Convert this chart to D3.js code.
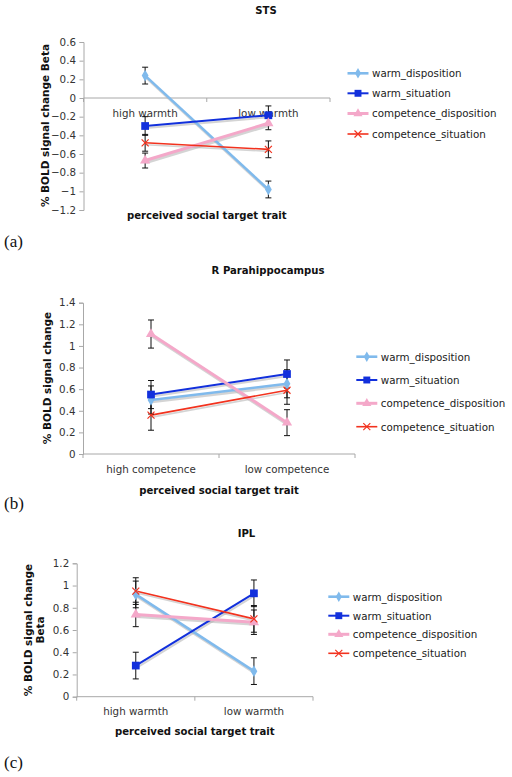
<!DOCTYPE html>
<html>
<head>
<meta charset="utf-8">
<script src="https://cdn.jsdelivr.net/npm/d3@7/dist/d3.min.js"></script>
<style>
  html, body { margin: 0; padding: 0; background: #fff; }
  svg { display: block; }
</style>
</head>
<body>
<svg id="chart" width="512" height="777"></svg>
<script>
// ---------------- DATA ----------------
const seriesNames = ["warm_disposition", "warm_situation", "competence_disposition", "competence_situation"];

// (a) STS
const stsCategories = ["high warmth", "low warmth"];
const stsTicks = [0.6, 0.4, 0.2, 0, -0.2, -0.4, -0.6, -0.8, -1, -1.2];
const stsWarmDisposition = [0.24, -0.98];
const stsWarmSituation = [-0.30, -0.185];
const stsCompetenceDisposition = [-0.67, -0.27];
const stsCompetenceSituation = [-0.48, -0.55];
const stsErrWarmDisposition = [0.09, 0.09];
const stsErrWarmSituation = [0.10, 0.10];
const stsErrCompetenceDisposition = [0.08, 0.07];
const stsErrCompetenceSituation = [0.09, 0.09];

// (b) R Parahippocampus
const phCategories = ["high competence", "low competence"];
const phTicks = [0, 0.2, 0.4, 0.6, 0.8, 1, 1.2, 1.4];
const phWarmDisposition = [0.50, 0.65];
const phWarmSituation = [0.55, 0.74];
const phCompetenceDisposition = [1.11, 0.29];
const phCompetenceSituation = [0.36, 0.59];
const phErrWarmDisposition = [0.13, 0.13];
const phErrWarmSituation = [0.13, 0.13];
const phErrCompetenceDisposition = [0.13, 0.12];
const phErrCompetenceSituation = [0.14, 0.13];

// (c) IPL
const iplCategories = ["high warmth", "low warmth"];
const iplTicks = [0, 0.2, 0.4, 0.6, 0.8, 1, 1.2];
const iplWarmDisposition = [0.92, 0.23];
const iplWarmSituation = [0.28, 0.93];
const iplCompetenceDisposition = [0.74, 0.67];
const iplCompetenceSituation = [0.95, 0.70];
const iplErrWarmDisposition = [0.12, 0.12];
const iplErrWarmSituation = [0.12, 0.12];
const iplErrCompetenceDisposition = [0.11, 0.11];
const iplErrCompetenceSituation = [0.12, 0.12];

// ---------------- STYLE ----------------
const seriesColors = ["#80BAEC", "#1230DC", "#F4A8C9", "#F2321E"];
const seriesWidths = [2.6, 2, 3, 1.6];
const seriesMarkers = ["diamond", "square", "triangle", "x"];
const axisColor = "#a8a8a8";
const sans = "'DejaVu Sans', Verdana, sans-serif";
const fs = 10.3;      // regular text
const fsBold = 10.1;  // bold titles
const fsYTitle = 10.5;

const svg = d3.select("#chart");

function marker(g, type, x, y, color, s) {
  s = s || 1;
  if (type === "diamond") {
    g.append("path").attr("d", d3.symbol(d3.symbolDiamond, 40 * s)()).attr("transform", `translate(${x},${y})`).attr("fill", color);
  } else if (type === "square") {
    g.append("path").attr("d", d3.symbol(d3.symbolSquare, 60 * s)()).attr("transform", `translate(${x},${y})`).attr("fill", color);
  } else if (type === "triangle") {
    g.append("path").attr("d", d3.symbol(d3.symbolTriangle, 45 * s)()).attr("transform", `translate(${x},${y})`).attr("fill", color);
  } else if (type === "x") {
    const r = 3.5;
    g.append("path").attr("d", `M${x - r},${y - r}L${x + r},${y + r}M${x - r},${y + r}L${x + r},${y - r}`)
      .attr("stroke", color).attr("stroke-width", 1.2).attr("fill", "none");
  }
}

function drawPanel(cfg) {
  const g = svg.append("g").style("font-family", sans);
  const y = d3.scaleLinear().domain(cfg.domain).range([cfg.bottom, cfg.top]);
  const x = d3.scalePoint().domain(cfg.categories).range([cfg.left, cfg.right]).padding(0.5);
  const band = d3.scaleBand().domain(cfg.categories).range([cfg.left, cfg.right]);

  // title
  g.append("text").attr("x", cfg.titleX).attr("y", cfg.titleY).attr("text-anchor", "middle")
    .style("font-family", sans).style("font-weight", "bold").style("font-size", fsBold + "px").attr("fill", "#111").text(cfg.title);

  // y axis
  const yAxis = d3.axisLeft(y).tickValues(cfg.ticks).tickSize(4).tickPadding(3.5)
    .tickFormat(d => d3.format("")(Math.round(d * 10) / 10));
  const ya = g.append("g").attr("transform", `translate(${cfg.left},0)`).call(yAxis);
  ya.select(".domain").attr("stroke", axisColor);
  ya.selectAll(".tick line").attr("stroke", axisColor);
  ya.selectAll(".tick text").style("font-size", fs + "px").style("font-family", sans).attr("fill", "#333");

  // x axis line at 0
  const y0 = y(0);
  g.append("line").attr("x1", cfg.left).attr("x2", cfg.right).attr("y1", y0).attr("y2", y0).attr("stroke", axisColor);
  const bounds = [cfg.left, cfg.left + band.bandwidth(), cfg.right];
  g.selectAll(".xt").data(bounds).enter().append("line")
    .attr("x1", d => d).attr("x2", d => d).attr("y1", y0).attr("y2", y0 + 4).attr("stroke", axisColor);

  // category labels
  g.selectAll(".cat").data(cfg.categories).enter().append("text")
    .attr("x", d => x(d)).attr("y", y0 + 18.5).attr("text-anchor", "middle")
    .style("font-size", fs + "px").style("font-family", sans).attr("fill", "#333").text(d => d);

  // x title
  g.append("text").attr("x", (cfg.left + cfg.right) / 2).attr("y", cfg.xTitleY).attr("text-anchor", "middle")
    .style("font-family", sans).style("font-weight", "bold").style("font-size", fsBold + "px").attr("fill", "#111")
    .text("perceived social target trait");

  // y title
  const yt = g.append("text").attr("transform", `translate(${cfg.yTitleX},${cfg.yTitleY}) rotate(-90)`)
    .attr("text-anchor", "middle").style("font-family", sans).style("font-weight", "bold").style("font-size", fsYTitle + "px").attr("fill", "#111");
  cfg.yTitle.forEach((t, i) => {
    yt.append("tspan").attr("x", 0).attr("dy", i === 0 ? 0 : 12).text(t);
  });

  // lines with shadow
  const line = d3.line().x((d, i) => x(cfg.categories[i])).y(d => y(d));
  cfg.values.forEach((vals, si) => {
    g.append("path").attr("d", line(vals)).attr("fill", "none")
      .attr("stroke", "#b0b0b0").attr("stroke-width", seriesWidths[si]).attr("opacity", 0.55)
      .attr("transform", "translate(1,2)");
  });
  cfg.values.forEach((vals, si) => {
    g.append("path").attr("d", line(vals)).attr("fill", "none")
      .attr("stroke", seriesColors[si]).attr("stroke-width", seriesWidths[si]);
  });
  // error bars
  cfg.values.forEach((vals, si) => {
    vals.forEach((v, i) => {
      const cx = x(cfg.categories[i]);
      const e = cfg.errors[si][i];
      const t = y(v + e), b = y(v - e);
      g.append("path").attr("d", `M${cx},${t}L${cx},${b}M${cx - 3},${t}L${cx + 3},${t}M${cx - 3},${b}L${cx + 3},${b}`)
        .attr("stroke", "#111").attr("stroke-width", 1).attr("fill", "none");
    });
  });
  // markers
  cfg.values.forEach((vals, si) => {
    vals.forEach((v, i) => marker(g, seriesMarkers[si], x(cfg.categories[i]), y(v), seriesColors[si]));
  });

  // legend
  seriesNames.forEach((name, i) => {
    const ly = cfg.legendY[i];
    g.append("line").attr("x1", cfg.legendX).attr("x2", cfg.legendX + 21).attr("y1", ly).attr("y2", ly)
      .attr("stroke", seriesColors[i]).attr("stroke-width", seriesWidths[i]);
    marker(g, seriesMarkers[i], cfg.legendX + 10.5, ly, seriesColors[i], 0.8);
    g.append("text").attr("x", cfg.legendX + 24.5).attr("y", ly + 3.8).style("font-size", fs + "px")
      .style("font-family", sans).attr("fill", "#222").text(name);
  });

  // panel letter
  svg.append("text").attr("x", 4).attr("y", cfg.letterY)
    .style("font-family", "'Liberation Serif', 'Times New Roman', serif")
    .style("font-size", "17px").attr("fill", "#111").text(cfg.letter);
}

drawPanel({
  title: "STS", titleX: 266, titleY: 14,
  categories: stsCategories, ticks: stsTicks, domain: [-1.2, 0.6],
  top: 42, bottom: 210, left: 83.5, right: 330,
  values: [stsWarmDisposition, stsWarmSituation, stsCompetenceDisposition, stsCompetenceSituation],
  errors: [stsErrWarmDisposition, stsErrWarmSituation, stsErrCompetenceDisposition, stsErrCompetenceSituation],
  xTitleY: 218.5, yTitle: ["% BOLD signal change Beta"], yTitleX: 49, yTitleY: 125.5,
  legendX: 347.5, legendY: [73.3, 93.3, 113.5, 134],
  letter: "(a)", letterY: 247
});

drawPanel({
  title: "R Parahippocampus", titleX: 268, titleY: 273.5,
  categories: phCategories, ticks: phTicks, domain: [0, 1.4],
  top: 302.7, bottom: 454, left: 83, right: 355,
  values: [phWarmDisposition, phWarmSituation, phCompetenceDisposition, phCompetenceSituation],
  errors: [phErrWarmDisposition, phErrWarmSituation, phErrCompetenceDisposition, phErrCompetenceSituation],
  xTitleY: 494, yTitle: ["% BOLD signal change"], yTitleX: 50.5, yTitleY: 378,
  legendX: 356.3, legendY: [356.7, 380, 403.3, 426.7],
  letter: "(b)", letterY: 509
});

drawPanel({
  title: "IPL", titleX: 246.5, titleY: 536.5,
  categories: iplCategories, ticks: iplTicks, domain: [0, 1.2],
  top: 563.3, bottom: 696.7, left: 76.7, right: 313,
  values: [iplWarmDisposition, iplWarmSituation, iplCompetenceDisposition, iplCompetenceSituation],
  errors: [iplErrWarmDisposition, iplErrWarmSituation, iplErrCompetenceDisposition, iplErrCompetenceSituation],
  xTitleY: 734.5, yTitle: ["% BOLD signal change", "Beta"], yTitleX: 32, yTitleY: 630,
  legendX: 328.3, legendY: [596.7, 615.7, 634.3, 653.3],
  letter: "(c)", letterY: 768
});
</script>
</body>
</html>
